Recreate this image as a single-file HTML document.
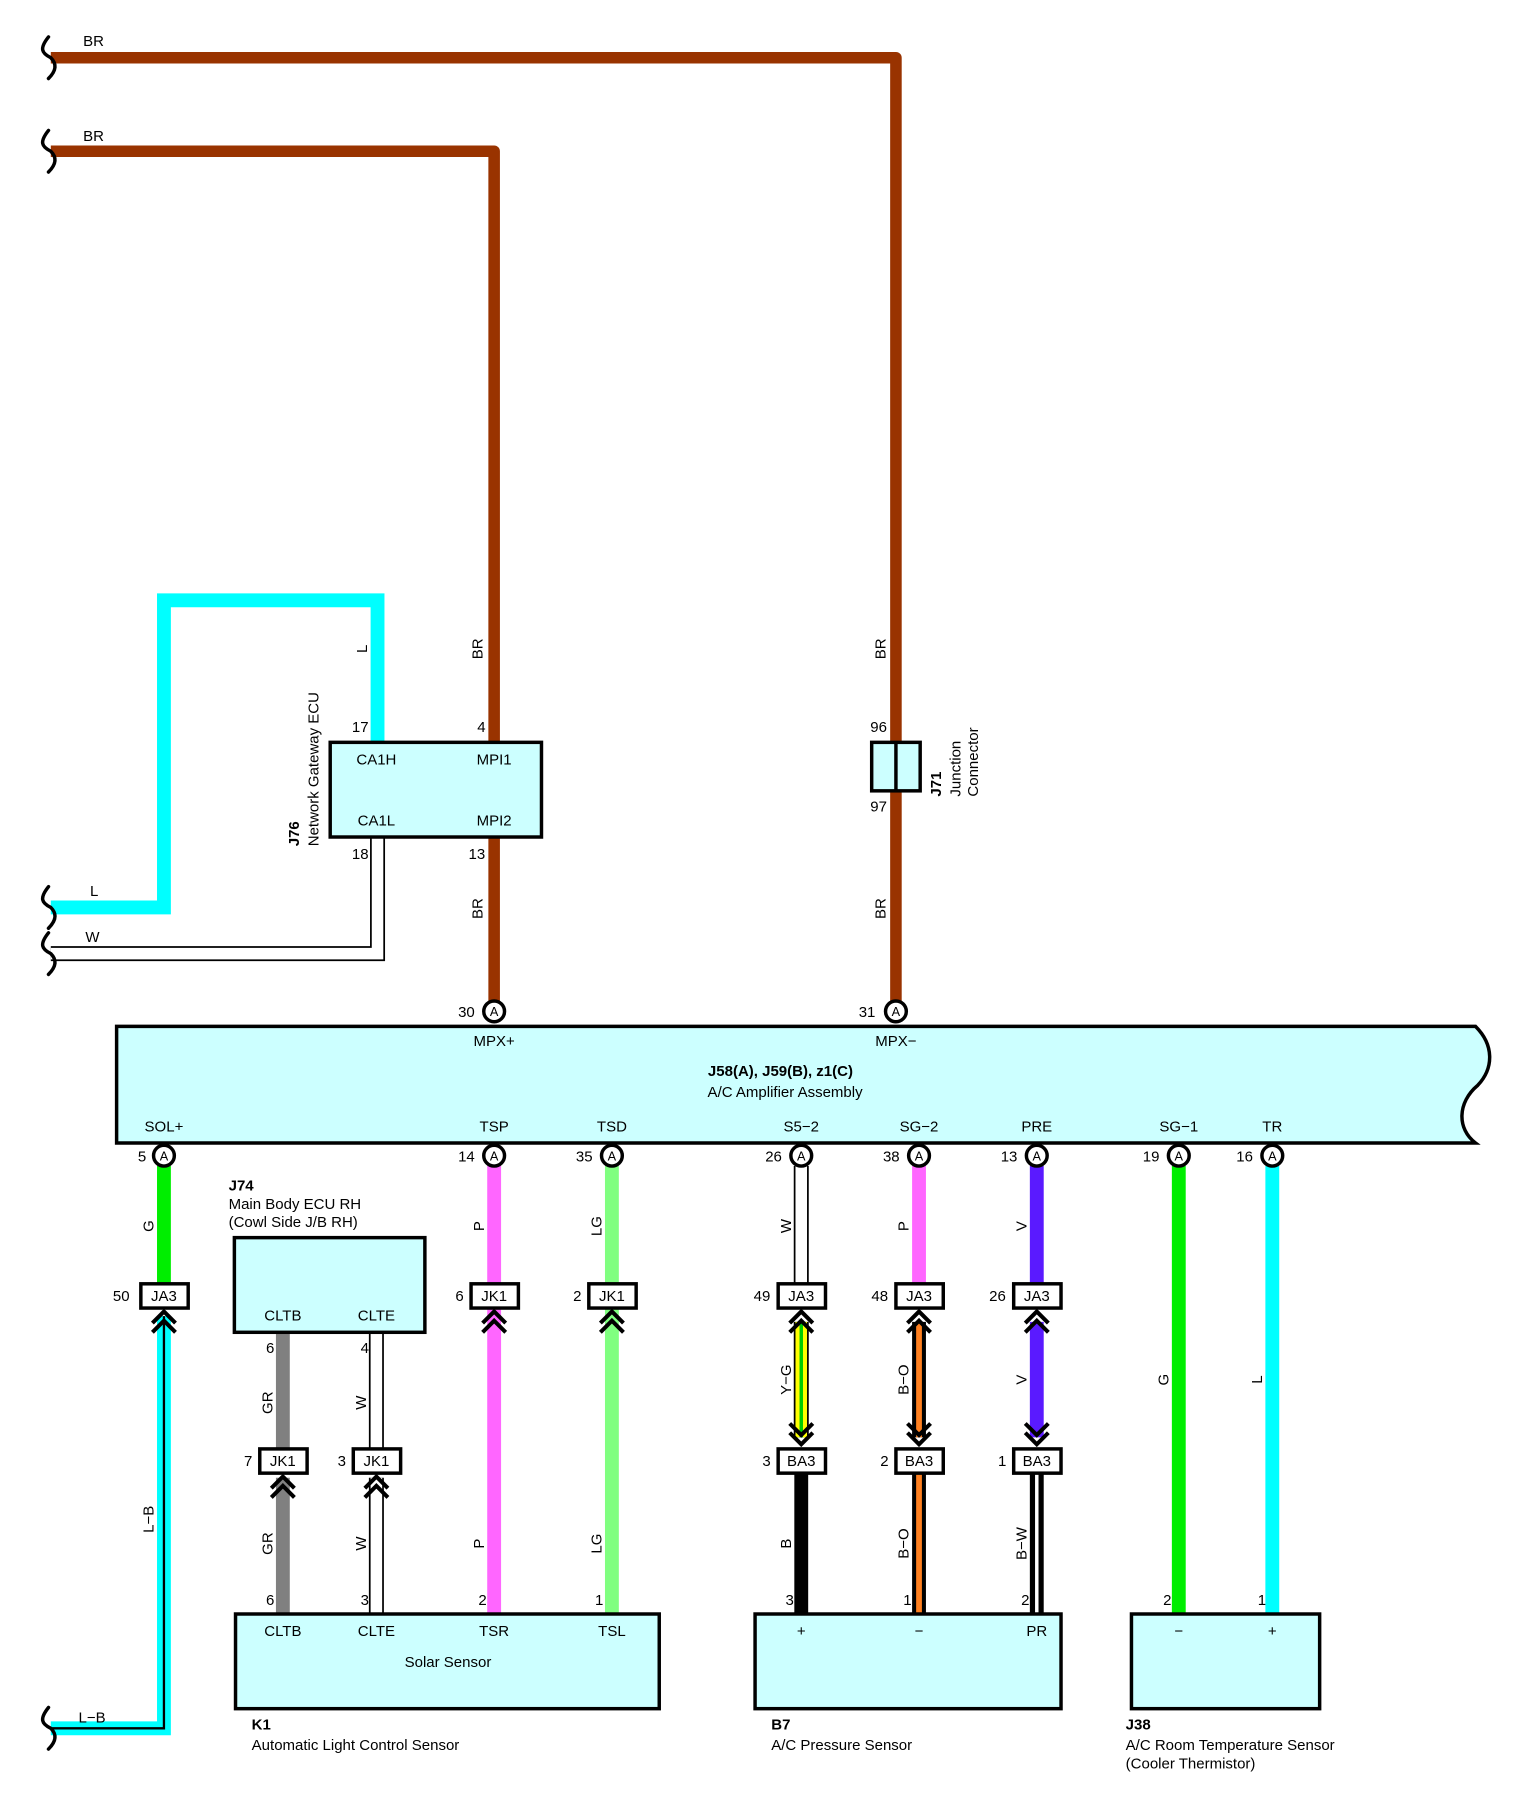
<!DOCTYPE html>
<html><head><meta charset="utf-8"><style>
html,body{margin:0;padding:0;background:#fff}
svg{display:block}
text{font-family:"Liberation Sans",Arial,sans-serif;font-size:13px;fill:#000}
.b{font-weight:bold}
.m{text-anchor:middle}
</style></head><body>
<svg width="1524" height="1812" viewBox="0 0 1320 1569.5" preserveAspectRatio="none" xmlns="http://www.w3.org/2000/svg">
<defs>
<g id="brk"><path d="M-2,-18 C-10,-8 -8,-4 0,0 C6,6 4,12 -2,18" fill="none" stroke="#000" stroke-width="3" stroke-linecap="round"/></g>
</defs>
<polyline points="44,50 776,50 776,870" fill="none" stroke="#993300" stroke-width="10" stroke-linejoin="round"/>
<polyline points="44,131 428,131 428,870" fill="none" stroke="#993300" stroke-width="10" stroke-linejoin="round"/>
<use href="#brk" x="44" y="50"/><use href="#brk" x="44" y="131"/>
<text x="72" y="40">BR</text><text x="72" y="122">BR</text>
<polyline points="327,643 327,520 142,520 142,786 44,786" fill="none" stroke="#00ffff" stroke-width="12" stroke-linejoin="miter"/>
<use href="#brk" x="44" y="786"/>
<text x="78" y="776">L</text>
<polyline points="327,725 327,826 44,826" fill="none" stroke="#000" stroke-width="13"/>
<polyline points="327,725 327,826 44,826" fill="none" stroke="#fff" stroke-width="10"/>
<use href="#brk" x="44" y="826"/>
<text x="74" y="816">W</text>
<g transform="translate(418,562) rotate(-90)"><text class="m">BR</text></g>
<g transform="translate(767,562) rotate(-90)"><text class="m">BR</text></g>
<g transform="translate(418,787) rotate(-90)"><text class="m">BR</text></g>
<g transform="translate(767,787) rotate(-90)"><text class="m">BR</text></g>
<g transform="translate(318,562) rotate(-90)"><text class="m">L</text></g>
<rect x="286" y="643" width="183" height="82" fill="#ccffff" stroke="#000" stroke-width="3"/>
<text x="326" y="662" class="m">CA1H</text><text x="428" y="662" class="m">MPI1</text>
<text x="326" y="715" class="m">CA1L</text><text x="428" y="715" class="m">MPI2</text>
<text x="312" y="634" class="m">17</text><text x="417" y="634" class="m">4</text>
<text x="312" y="744" class="m">18</text><text x="413" y="744" class="m">13</text>
<g transform="translate(259,733) rotate(-90)"><text class="b">J76</text></g>
<g transform="translate(276,733) rotate(-90)"><text>Network Gateway ECU</text></g>
<rect x="755" y="643" width="42" height="42" fill="#ccffff" stroke="#000" stroke-width="3"/>
<line x1="776" y1="643" x2="776" y2="685" stroke="#000" stroke-width="3"/>
<text x="761" y="634" class="m">96</text><text x="761" y="703" class="m">97</text>
<g transform="translate(815,690) rotate(-90)"><text class="b">J71</text></g>
<g transform="translate(832,690) rotate(-90)"><text>Junction</text></g>
<g transform="translate(847,690) rotate(-90)"><text>Connector</text></g>
<path d="M101,889 L1278,889 C1294,905 1294,925 1280,940 C1262,955 1262,978 1278,990 L101,990 Z" fill="#ccffff" stroke="#000" stroke-width="3"/>
<text x="676" y="932" class="m b">J58(A), J59(B), z1(C)</text>
<text x="680" y="950" class="m">A/C Amplifier Assembly</text>
<text x="428" y="906" class="m">MPX+</text><text x="776" y="906" class="m">MPX−</text>
<text x="142" y="980" class="m">SOL+</text><text x="428" y="980" class="m">TSP</text><text x="530" y="980" class="m">TSD</text>
<text x="694" y="980" class="m">S5−2</text><text x="796" y="980" class="m">SG−2</text><text x="898" y="980" class="m">PRE</text>
<text x="1021" y="980" class="m">SG−1</text><text x="1102" y="980" class="m">TR</text>
<line x1="142" y1="1010" x2="142" y2="1112" stroke="#00ee00" stroke-width="12"/>
<polyline points="142,1140 142,1497 44,1497" fill="none" stroke="#00ffff" stroke-width="12"/>
<polyline points="142,1140 142,1497 44,1497" fill="none" stroke="#000" stroke-width="2"/>
<use href="#brk" x="44" y="1497"/>
<text x="68" y="1492">L−B</text>
<g transform="translate(133,1316) rotate(-90)"><text class="m">L−B</text></g>
<g transform="translate(133,1062) rotate(-90)"><text class="m">G</text></g>
<line x1="245" y1="1154" x2="245" y2="1255" stroke="#808080" stroke-width="12"/>
<line x1="245" y1="1280" x2="245" y2="1398" stroke="#808080" stroke-width="12"/>
<line x1="326" y1="1154" x2="326" y2="1255" stroke="#000" stroke-width="13"/><line x1="326" y1="1154" x2="326" y2="1255" stroke="#fff" stroke-width="10"/>
<line x1="326" y1="1280" x2="326" y2="1398" stroke="#000" stroke-width="13"/><line x1="326" y1="1280" x2="326" y2="1398" stroke="#fff" stroke-width="10"/>
<line x1="428" y1="1010" x2="428" y2="1398" stroke="#ff66ff" stroke-width="12"/>
<line x1="530" y1="1010" x2="530" y2="1398" stroke="#80ff80" stroke-width="12"/>
<g transform="translate(236,1215) rotate(-90)"><text class="m">GR</text></g>
<g transform="translate(236,1337) rotate(-90)"><text class="m">GR</text></g>
<g transform="translate(317,1215) rotate(-90)"><text class="m">W</text></g>
<g transform="translate(317,1337) rotate(-90)"><text class="m">W</text></g>
<g transform="translate(419,1062) rotate(-90)"><text class="m">P</text></g>
<g transform="translate(419,1337) rotate(-90)"><text class="m">P</text></g>
<g transform="translate(521,1062) rotate(-90)"><text class="m">LG</text></g>
<g transform="translate(521,1337) rotate(-90)"><text class="m">LG</text></g>
<line x1="694" y1="1010" x2="694" y2="1112" stroke="#000" stroke-width="13"/><line x1="694" y1="1010" x2="694" y2="1112" stroke="#fff" stroke-width="10"/>
<line x1="694" y1="1145" x2="694" y2="1245" stroke="#000" stroke-width="13"/><line x1="694" y1="1145" x2="694" y2="1245" stroke="#ffff00" stroke-width="10"/><line x1="694" y1="1145" x2="694" y2="1245" stroke="#00cc00" stroke-width="3"/>
<line x1="694" y1="1275" x2="694" y2="1398" stroke="#000" stroke-width="12"/>
<line x1="796" y1="1010" x2="796" y2="1112" stroke="#ff66ff" stroke-width="12"/>
<line x1="796" y1="1145" x2="796" y2="1245" stroke="#000" stroke-width="12"/><line x1="796" y1="1145" x2="796" y2="1245" stroke="#ff8020" stroke-width="5"/>
<line x1="796" y1="1275" x2="796" y2="1398" stroke="#000" stroke-width="12"/><line x1="796" y1="1275" x2="796" y2="1398" stroke="#ff8020" stroke-width="5"/>
<line x1="898" y1="1010" x2="898" y2="1112" stroke="#5a1aff" stroke-width="12"/>
<line x1="898" y1="1145" x2="898" y2="1245" stroke="#5a1aff" stroke-width="12"/>
<line x1="898" y1="1275" x2="898" y2="1398" stroke="#000" stroke-width="12"/><line x1="898" y1="1275" x2="898" y2="1398" stroke="#fff" stroke-width="3"/>
<g transform="translate(685,1062) rotate(-90)"><text class="m">W</text></g>
<g transform="translate(685,1195) rotate(-90)"><text class="m">Y−G</text></g>
<g transform="translate(685,1337) rotate(-90)"><text class="m">B</text></g>
<g transform="translate(787,1062) rotate(-90)"><text class="m">P</text></g>
<g transform="translate(787,1195) rotate(-90)"><text class="m">B−O</text></g>
<g transform="translate(787,1337) rotate(-90)"><text class="m">B−O</text></g>
<g transform="translate(889,1062) rotate(-90)"><text class="m">V</text></g>
<g transform="translate(889,1195) rotate(-90)"><text class="m">V</text></g>
<g transform="translate(889,1337) rotate(-90)"><text class="m">B−W</text></g>
<line x1="1021" y1="1010" x2="1021" y2="1398" stroke="#00ee00" stroke-width="12"/>
<line x1="1102" y1="1010" x2="1102" y2="1398" stroke="#00ffff" stroke-width="12"/>
<g transform="translate(1012,1195) rotate(-90)"><text class="m">G</text></g>
<g transform="translate(1093,1195) rotate(-90)"><text class="m">L</text></g>
<g fill="none" stroke="#000" stroke-width="3.5">
<path d="M132,1146 L142,1136 L152,1146 M132,1154 L142,1144 L152,1154"/>
<path d="M418,1146 L428,1136 L438,1146 M418,1154 L428,1144 L438,1154"/>
<path d="M520,1146 L530,1136 L540,1146 M520,1154 L530,1144 L540,1154"/>
<path d="M684,1146 L694,1136 L704,1146 M684,1154 L694,1144 L704,1154"/>
<path d="M786,1146 L796,1136 L806,1146 M786,1154 L796,1144 L806,1154"/>
<path d="M888,1146 L898,1136 L908,1146 M888,1154 L898,1144 L908,1154"/>
<path d="M235,1289 L245,1279 L255,1289 M235,1297 L245,1287 L255,1297"/>
<path d="M316,1289 L326,1279 L336,1289 M316,1297 L326,1287 L336,1297"/>
<path d="M684,1233 L694,1243 L704,1233 M684,1241 L694,1251 L704,1241"/>
<path d="M786,1233 L796,1243 L806,1233 M786,1241 L796,1251 L806,1241"/>
<path d="M888,1233 L898,1243 L908,1233 M888,1241 L898,1251 L908,1241"/>
</g>
<g stroke="#000" stroke-width="3" fill="#fff">
<rect x="122" y="1112" width="41" height="21"/>
<rect x="408" y="1112" width="41" height="21"/><rect x="510" y="1112" width="41" height="21"/>
<rect x="674" y="1112" width="41" height="21"/><rect x="776" y="1112" width="41" height="21"/><rect x="878" y="1112" width="41" height="21"/>
<rect x="225" y="1255" width="41" height="21"/><rect x="306" y="1255" width="41" height="21"/>
<rect x="674" y="1255" width="41" height="21"/><rect x="776" y="1255" width="41" height="21"/><rect x="878" y="1255" width="41" height="21"/>
</g>
<text x="142" y="1127" class="m">JA3</text><text x="105" y="1127" class="m">50</text>
<text x="428" y="1127" class="m">JK1</text><text x="398" y="1127" class="m">6</text>
<text x="530" y="1127" class="m">JK1</text><text x="500" y="1127" class="m">2</text>
<text x="694" y="1127" class="m">JA3</text><text x="660" y="1127" class="m">49</text>
<text x="796" y="1127" class="m">JA3</text><text x="762" y="1127" class="m">48</text>
<text x="898" y="1127" class="m">JA3</text><text x="864" y="1127" class="m">26</text>
<text x="245" y="1270" class="m">JK1</text><text x="215" y="1270" class="m">7</text>
<text x="326" y="1270" class="m">JK1</text><text x="296" y="1270" class="m">3</text>
<text x="694" y="1270" class="m">BA3</text><text x="664" y="1270" class="m">3</text>
<text x="796" y="1270" class="m">BA3</text><text x="766" y="1270" class="m">2</text>
<text x="898" y="1270" class="m">BA3</text><text x="868" y="1270" class="m">1</text>
<g stroke="#000" stroke-width="3" fill="#fff">
<circle cx="428" cy="876" r="9"/><circle cx="776" cy="876" r="9"/>
<circle cx="142" cy="1001" r="9"/><circle cx="428" cy="1001" r="9"/><circle cx="530" cy="1001" r="9"/>
<circle cx="694" cy="1001" r="9"/><circle cx="796" cy="1001" r="9"/><circle cx="898" cy="1001" r="9"/>
<circle cx="1021" cy="1001" r="9"/><circle cx="1102" cy="1001" r="9"/>
</g>
<text x="428" y="880" class="m" style="font-size:11px">A</text><text x="776" y="880" class="m" style="font-size:11px">A</text>
<text x="142" y="1005" class="m" style="font-size:11px">A</text><text x="428" y="1005" class="m" style="font-size:11px">A</text><text x="530" y="1005" class="m" style="font-size:11px">A</text>
<text x="694" y="1005" class="m" style="font-size:11px">A</text><text x="796" y="1005" class="m" style="font-size:11px">A</text><text x="898" y="1005" class="m" style="font-size:11px">A</text>
<text x="1021" y="1005" class="m" style="font-size:11px">A</text><text x="1102" y="1005" class="m" style="font-size:11px">A</text>
<text x="404" y="881" class="m">30</text><text x="751" y="881" class="m">31</text>
<text x="123" y="1006" class="m">5</text><text x="404" y="1006" class="m">14</text><text x="506" y="1006" class="m">35</text>
<text x="670" y="1006" class="m">26</text><text x="772" y="1006" class="m">38</text><text x="874" y="1006" class="m">13</text>
<text x="997" y="1006" class="m">19</text><text x="1078" y="1006" class="m">16</text>
<rect x="203" y="1072" width="165" height="82" fill="#ccffff" stroke="#000" stroke-width="3"/>
<text x="245" y="1144" class="m">CLTB</text><text x="326" y="1144" class="m">CLTE</text>
<text x="234" y="1172" class="m">6</text><text x="316" y="1172" class="m">4</text>
<text x="198" y="1031" class="b">J74</text>
<text x="198" y="1047">Main Body ECU RH</text>
<text x="198" y="1063">(Cowl Side J/B RH)</text>
<rect x="204" y="1398" width="367" height="82" fill="#ccffff" stroke="#000" stroke-width="3"/>
<text x="245" y="1417" class="m">CLTB</text><text x="326" y="1417" class="m">CLTE</text><text x="428" y="1417" class="m">TSR</text><text x="530" y="1417" class="m">TSL</text>
<text x="388" y="1444" class="m">Solar Sensor</text>
<text x="234" y="1390" class="m">6</text><text x="316" y="1390" class="m">3</text><text x="418" y="1390" class="m">2</text><text x="519" y="1390" class="m">1</text>
<text x="218" y="1498" class="b">K1</text><text x="218" y="1516">Automatic Light Control Sensor</text>
<rect x="654" y="1398" width="265" height="82" fill="#ccffff" stroke="#000" stroke-width="3"/>
<text x="694" y="1417" class="m">+</text><text x="796" y="1417" class="m">−</text><text x="898" y="1417" class="m">PR</text>
<text x="684" y="1390" class="m">3</text><text x="786" y="1390" class="m">1</text><text x="888" y="1390" class="m">2</text>
<text x="668" y="1498" class="b">B7</text><text x="668" y="1516">A/C Pressure Sensor</text>
<rect x="980" y="1398" width="163" height="82" fill="#ccffff" stroke="#000" stroke-width="3"/>
<text x="1021" y="1417" class="m">−</text><text x="1102" y="1417" class="m">+</text>
<text x="1011" y="1390" class="m">2</text><text x="1093" y="1390" class="m">1</text>
<text x="975" y="1498" class="b">J38</text><text x="975" y="1516">A/C Room Temperature Sensor</text><text x="975" y="1532">(Cooler Thermistor)</text>
</svg>
</body></html>
